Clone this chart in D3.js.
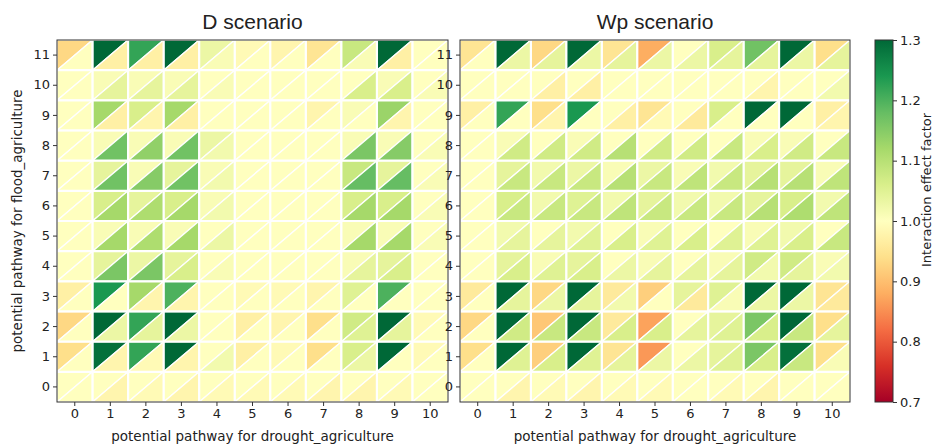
<!DOCTYPE html>
<html>
<head>
<meta charset="utf-8">
<script src="https://cdn.jsdelivr.net/npm/d3@7"></script>
<style>
  body { margin: 0; background: #fff; }
  svg text { font-family: "DejaVu Sans", sans-serif; fill: #222; }
</style>
</head>
<body>
<svg width="939" height="446"></svg>
<script>
// pathway indices
var xCats = [0, 1, 2, 3, 4, 5, 6, 7, 8, 9, 10];
var yCats = [11, 10, 9, 8, 7, 6, 5, 4, 3, 2, 1, 0]; // rows listed top to bottom
var cbTicks = [0.7, 0.8, 0.9, 1.0, 1.1, 1.2, 1.3];

// D scenario: upper-left triangle values (rows 11 -> 0)
var dUpper = [
  [0.93, 1.30, 1.22, 1.30, 1.03, 0.99, 0.98, 0.95, 1.08, 1.30, 1.00],
  [1.00, 1.01, 1.01, 1.01, 1.00, 1.00, 1.00, 1.00, 1.00, 1.01, 1.00],
  [1.00, 1.12, 1.06, 1.12, 1.00, 1.00, 1.00, 0.98, 1.01, 1.13, 1.00],
  [1.00, 1.01, 1.01, 1.01, 1.03, 1.00, 1.00, 1.00, 1.01, 1.01, 1.00],
  [1.00, 1.04, 1.01, 1.04, 1.01, 1.00, 1.00, 1.00, 1.08, 1.04, 1.00],
  [1.00, 1.06, 1.04, 1.06, 1.01, 1.00, 1.00, 1.00, 1.06, 1.06, 1.00],
  [1.00, 1.01, 1.01, 1.01, 1.00, 1.00, 1.00, 1.00, 1.01, 1.01, 1.00],
  [1.00, 1.04, 1.03, 1.04, 1.00, 1.00, 1.00, 1.00, 1.01, 1.04, 1.00],
  [0.97, 1.24, 1.12, 1.20, 1.00, 0.99, 0.99, 0.98, 1.05, 1.20, 1.00],
  [0.93, 1.30, 1.22, 1.30, 1.00, 0.97, 0.98, 0.94, 1.07, 1.30, 0.99],
  [0.94, 1.29, 1.22, 1.30, 1.00, 0.97, 0.99, 0.94, 1.06, 1.30, 0.99],
  [1.00, 1.00, 1.00, 1.00, 1.00, 1.00, 1.00, 1.00, 1.00, 1.00, 1.00]
];
// D scenario: lower-right triangle values
var dLower = [
  [1.00, 0.97, 0.97, 0.97, 1.01, 1.00, 1.00, 1.00, 1.01, 0.97, 1.00],
  [1.00, 1.04, 1.04, 1.04, 1.01, 1.00, 1.00, 1.00, 1.06, 1.06, 1.01],
  [1.00, 0.97, 0.98, 0.97, 1.00, 1.00, 1.00, 1.00, 1.00, 0.98, 1.00],
  [1.00, 1.17, 1.14, 1.17, 1.02, 1.00, 1.00, 1.00, 1.16, 1.15, 1.01],
  [1.00, 1.17, 1.15, 1.17, 1.02, 1.00, 1.00, 1.00, 1.18, 1.18, 1.01],
  [1.00, 1.12, 1.11, 1.12, 1.02, 1.00, 1.00, 1.00, 1.12, 1.12, 1.01],
  [1.00, 1.12, 1.11, 1.12, 1.03, 1.00, 1.00, 1.00, 1.12, 1.12, 1.01],
  [1.00, 1.16, 1.16, 1.06, 1.01, 1.00, 1.00, 1.00, 1.04, 1.06, 1.00],
  [1.00, 1.00, 0.98, 0.98, 1.00, 1.00, 1.00, 1.00, 1.00, 1.00, 1.00],
  [1.00, 1.03, 1.04, 1.03, 1.00, 1.00, 1.00, 1.00, 1.05, 1.04, 1.00],
  [1.00, 0.98, 0.99, 0.98, 1.02, 1.00, 1.00, 1.00, 1.03, 1.00, 1.00],
  [1.00, 0.98, 0.99, 0.98, 0.99, 0.99, 0.99, 0.98, 0.98, 0.99, 1.00]
];
// Wp scenario: upper-left triangle values
var wpUpper = [
  [0.95, 1.30, 0.93, 1.30, 0.95, 0.88, 1.00, 1.06, 1.17, 1.30, 0.94],
  [1.00, 1.00, 1.00, 1.00, 1.00, 1.00, 1.00, 1.00, 1.00, 1.00, 1.00],
  [0.97, 1.22, 0.94, 1.24, 1.00, 0.95, 1.00, 1.06, 1.30, 1.30, 0.97],
  [1.00, 1.01, 1.00, 1.01, 1.00, 1.00, 1.00, 1.00, 1.01, 1.01, 1.00],
  [1.00, 1.04, 1.02, 1.03, 1.01, 1.03, 1.01, 1.02, 1.04, 1.04, 1.01],
  [1.00, 1.06, 1.02, 1.05, 1.02, 1.04, 1.02, 1.02, 1.04, 1.06, 1.02],
  [1.00, 1.02, 1.00, 1.02, 1.00, 1.01, 1.00, 1.00, 1.01, 1.02, 1.00],
  [1.00, 1.04, 1.01, 1.04, 1.00, 1.01, 1.00, 1.01, 1.07, 1.07, 1.01],
  [0.96, 1.30, 0.93, 1.30, 0.96, 0.92, 1.04, 1.05, 1.30, 1.30, 0.95],
  [0.93, 1.30, 0.91, 1.30, 0.96, 0.87, 1.00, 1.04, 1.16, 1.30, 0.94],
  [0.94, 1.30, 0.92, 1.30, 0.95, 0.86, 1.00, 1.04, 1.16, 1.29, 0.94],
  [1.00, 1.00, 1.00, 1.00, 1.00, 1.00, 1.00, 1.00, 1.00, 1.00, 1.00]
];
// Wp scenario: lower-right triangle values
var wpLower = [
  [1.00, 1.03, 1.04, 1.03, 1.04, 1.03, 1.03, 1.04, 1.04, 1.03, 1.04],
  [1.00, 1.00, 0.97, 0.97, 1.00, 1.00, 1.00, 1.00, 0.98, 1.00, 1.02],
  [1.00, 1.00, 0.98, 1.00, 0.97, 0.99, 0.96, 1.00, 1.00, 1.00, 0.98],
  [1.00, 1.07, 1.07, 1.07, 1.10, 1.07, 1.07, 1.08, 1.06, 1.07, 1.08],
  [1.00, 1.08, 1.08, 1.08, 1.10, 1.08, 1.09, 1.08, 1.10, 1.10, 1.09],
  [1.00, 1.08, 1.08, 1.08, 1.09, 1.08, 1.08, 1.08, 1.10, 1.11, 1.09],
  [1.00, 1.04, 1.04, 1.05, 1.06, 1.05, 1.06, 1.05, 1.05, 1.06, 1.08],
  [1.00, 1.06, 1.05, 1.06, 1.03, 1.04, 1.04, 1.04, 1.02, 1.04, 1.02],
  [1.00, 1.04, 1.03, 1.04, 1.02, 1.00, 0.96, 1.01, 1.03, 1.03, 0.96],
  [1.00, 1.07, 1.08, 1.08, 1.06, 1.06, 1.04, 1.05, 1.06, 1.08, 1.04],
  [1.00, 1.05, 1.06, 1.05, 1.04, 1.03, 1.03, 1.05, 1.06, 1.08, 1.01],
  [1.00, 0.98, 0.99, 0.98, 0.99, 0.99, 1.00, 0.99, 0.98, 1.00, 1.00]
];

var svg = d3.select("svg");
var plotTop = 40, plotBottom = 402;

// linear interpolation between the 11 RdYlGn anchors (like matplotlib)
var rdylgn = d3.piecewise(d3.interpolateRgb, d3.schemeRdYlGn[11]);
var color = d3.scaleSequential(rdylgn).domain([0.7, 1.3]).clamp(true);

var y = d3.scaleBand().domain(yCats).range([plotTop, plotBottom]);

var panels = [
  { title: "D scenario", left: 57, right: 448, upper: dUpper, lower: dLower },
  { title: "Wp scenario", left: 460, right: 850, upper: wpUpper, lower: wpLower }
];

panels.forEach(function (p) {
  var x = d3.scaleBand().domain(xCats).range([p.left, p.right]);
  var cells = [];
  yCats.forEach(function (r, ri) {
    xCats.forEach(function (c, ci) {
      cells.push({ row: r, col: c, part: "upper", value: p.upper[ri][ci] });
      cells.push({ row: r, col: c, part: "lower", value: p.lower[ri][ci] });
    });
  });

  var g = svg.append("g");
  g.selectAll("path.tri")
    .data(cells)
    .enter()
    .append("path")
    .attr("class", "tri")
    .attr("d", function (d) {
      var x0 = x(d.col), x1 = x0 + x.bandwidth();
      var y0 = y(d.row), y1 = y0 + y.bandwidth();
      if (d.part === "upper") {
        return "M" + x0 + "," + y0 + "L" + x1 + "," + y0 + "L" + x0 + "," + y1 + "Z";
      }
      return "M" + x1 + "," + y0 + "L" + x1 + "," + y1 + "L" + x0 + "," + y1 + "Z";
    })
    .attr("fill", function (d) { return color(d.value); })
    .attr("stroke", "#fff")
    .attr("stroke-width", 1.3)
    .attr("stroke-linejoin", "round");

  // white cell separators
  g.selectAll("line.vsep")
    .data(xCats.slice(1))
    .enter()
    .append("line")
    .attr("x1", function (d) { return x(d); })
    .attr("x2", function (d) { return x(d); })
    .attr("y1", plotTop).attr("y2", plotBottom)
    .attr("stroke", "#fff").attr("stroke-width", 2.2);
  g.selectAll("line.hsep")
    .data(yCats.slice(1))
    .enter()
    .append("line")
    .attr("x1", p.left).attr("x2", p.right)
    .attr("y1", function (d) { return y(d); })
    .attr("y2", function (d) { return y(d); })
    .attr("stroke", "#fff").attr("stroke-width", 2.2);

  // frame
  g.append("rect")
    .attr("x", p.left)
    .attr("y", plotTop)
    .attr("width", p.right - p.left)
    .attr("height", plotBottom - plotTop)
    .attr("fill", "none")
    .attr("stroke", "#333")
    .attr("stroke-width", 1);

  var xAxis = g.append("g")
    .attr("transform", "translate(0," + plotBottom + ")")
    .call(d3.axisBottom(x).tickSize(4).tickPadding(3));
  xAxis.select(".domain").remove();
  xAxis.selectAll("text").attr("font-size", 13).attr("fill", "#222")
    .style("font-family", "DejaVu Sans, sans-serif");
  xAxis.selectAll("line").attr("stroke", "#333");

  var yAxis = g.append("g")
    .attr("transform", "translate(" + p.left + ",0)")
    .call(d3.axisLeft(y).tickSize(4).tickPadding(3));
  yAxis.select(".domain").remove();
  yAxis.selectAll("text").attr("font-size", 13).attr("fill", "#222")
    .style("font-family", "DejaVu Sans, sans-serif");
  yAxis.selectAll("line").attr("stroke", "#333");

  svg.append("text")
    .attr("x", (p.left + p.right) / 2)
    .attr("y", 29)
    .attr("text-anchor", "middle")
    .attr("font-size", 21)
    .style("font-family", "Liberation Sans, Arial, sans-serif")
    .text(p.title);

  svg.append("text")
    .attr("x", (p.left + p.right) / 2)
    .attr("y", 441)
    .attr("text-anchor", "middle")
    .attr("font-size", 13.5)
    .text("potential pathway for drought_agriculture");
});

svg.append("text")
  .attr("transform", "translate(22," + ((plotTop + plotBottom) / 2) + ") rotate(-90)")
  .attr("text-anchor", "middle")
  .attr("font-size", 13.5)
  .text("potential pathway for flood_agriculture");

// colorbar
var cbX = 875, cbW = 18;
var cbScale = d3.scaleLinear().domain([0.7, 1.3]).range([plotBottom, plotTop]);
var defs = svg.append("defs");
var grad = defs.append("linearGradient")
  .attr("id", "cbgrad")
  .attr("x1", 0).attr("y1", 1).attr("x2", 0).attr("y2", 0);
d3.range(0, 1.0001, 0.05).forEach(function (t) {
  grad.append("stop")
    .attr("offset", t)
    .attr("stop-color", rdylgn(t));
});
svg.append("rect")
  .attr("x", cbX).attr("y", plotTop)
  .attr("width", cbW).attr("height", plotBottom - plotTop)
  .attr("fill", "url(#cbgrad)")
  .attr("stroke", "#333")
  .attr("stroke-width", 1);

var cbAxis = svg.append("g")
  .attr("transform", "translate(" + (cbX + cbW) + ",0)")
  .call(d3.axisRight(cbScale).tickValues(cbTicks).tickFormat(d3.format(".1f")).tickSize(4).tickPadding(3));
cbAxis.select(".domain").remove();
cbAxis.selectAll("text").attr("font-size", 13).attr("fill", "#222")
  .style("font-family", "DejaVu Sans, sans-serif");
cbAxis.selectAll("line").attr("stroke", "#333");

svg.append("text")
  .attr("transform", "translate(931,190) rotate(-90)")
  .attr("text-anchor", "middle")
  .attr("font-size", 13)
  .text("Interaction effect factor");
</script>
</body>
</html>
